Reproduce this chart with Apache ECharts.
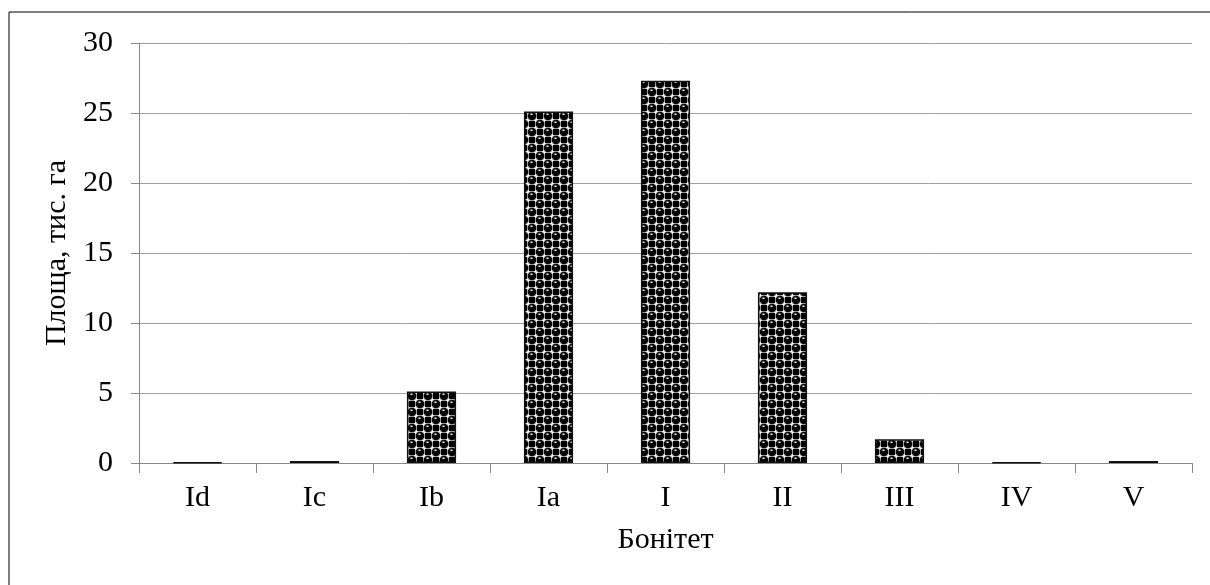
<!DOCTYPE html>
<html><head><meta charset="utf-8">
<script src="https://cdn.jsdelivr.net/npm/echarts@6/dist/echarts.min.js"></script>
<style>html,body{margin:0;padding:0;background:#fff}#c{width:1210px;height:585px}</style>
</head><body><div id="c"></div>
<script>
const categories = ['Id','Ic','Ib','Ia','I','II','III','IV','V'];
const values = [0.05, 0.15, 5.1, 25.1, 27.3, 12.2, 1.7, 0.05, 0.15];
const yTicks = [0, 5, 10, 15, 20, 25, 30];

function makePattern(){
  const c = document.createElement('canvas');
  c.width = 16; c.height = 16;
  const g = c.getContext('2d');
  g.fillStyle = '#fff'; g.fillRect(0,0,16,16);
  g.fillStyle = '#000';
  g.fillRect(9,1,6,6); g.fillRect(1,9,6,6);
  const circ = (x,y)=>{
    g.beginPath(); g.arc(x,y,4.6,0,Math.PI*2); g.fillStyle='#000'; g.fill();
    g.lineWidth=1; g.strokeStyle='#999'; g.stroke();
    g.fillStyle='#fff'; g.fillRect(x-1.5,y-2.5,2,1.5);
  };
  circ(4,4); circ(12,12); circ(-4,12); circ(12,-4); circ(20,4); circ(4,20);
  return c;
}

const chart = echarts.init(document.getElementById('c'), null, {renderer:'canvas'});
const font = 'Liberation Serif';
chart.setOption({
  animation:false,
  backgroundColor:'#fff',
  graphic:[{type:'rect', shape:{x:9,y:12,width:1230,height:620}, style:{fill:'none', stroke:'#000', lineWidth:1}, z:-1}],
  grid:{left:139, right:18, top:43, bottom:122},
  xAxis:{
    type:'category', data:categories,
    name:'Бонітет', nameLocation:'middle', nameGap:62,
    nameTextStyle:{fontFamily:font, fontSize:30, color:'#000'},
    axisLine:{lineStyle:{color:'#888', width:1}},
    axisTick:{show:true, length:10, lineStyle:{color:'#888'}, alignWithLabel:false},
    axisLabel:{fontFamily:font, fontSize:30, color:'#000', margin:20}
  },
  yAxis:{
    type:'value', min:0, max:30, interval:5,
    name:'Площа, тис. га', nameLocation:'middle', nameGap:60, nameRotate:90,
    nameTextStyle:{fontFamily:font, fontSize:30, color:'#000'},
    axisLine:{show:true, lineStyle:{color:'#888', width:1}},
    axisTick:{show:true, length:8, lineStyle:{color:'#888'}},
    axisLabel:{fontFamily:font, fontSize:30, color:'#000', margin:26,
      formatter:v=>yTicks.includes(v)?String(v):''},
    splitLine:{lineStyle:{color:'#a0a0a0', width:1}}
  },
  series:[{
    type:'bar', data:values, barWidth:'42%',
    itemStyle:{color:{image:makePattern(), repeat:'repeat'}, borderColor:'#111', borderWidth:1.5}
  }]
});
</script></body></html>
